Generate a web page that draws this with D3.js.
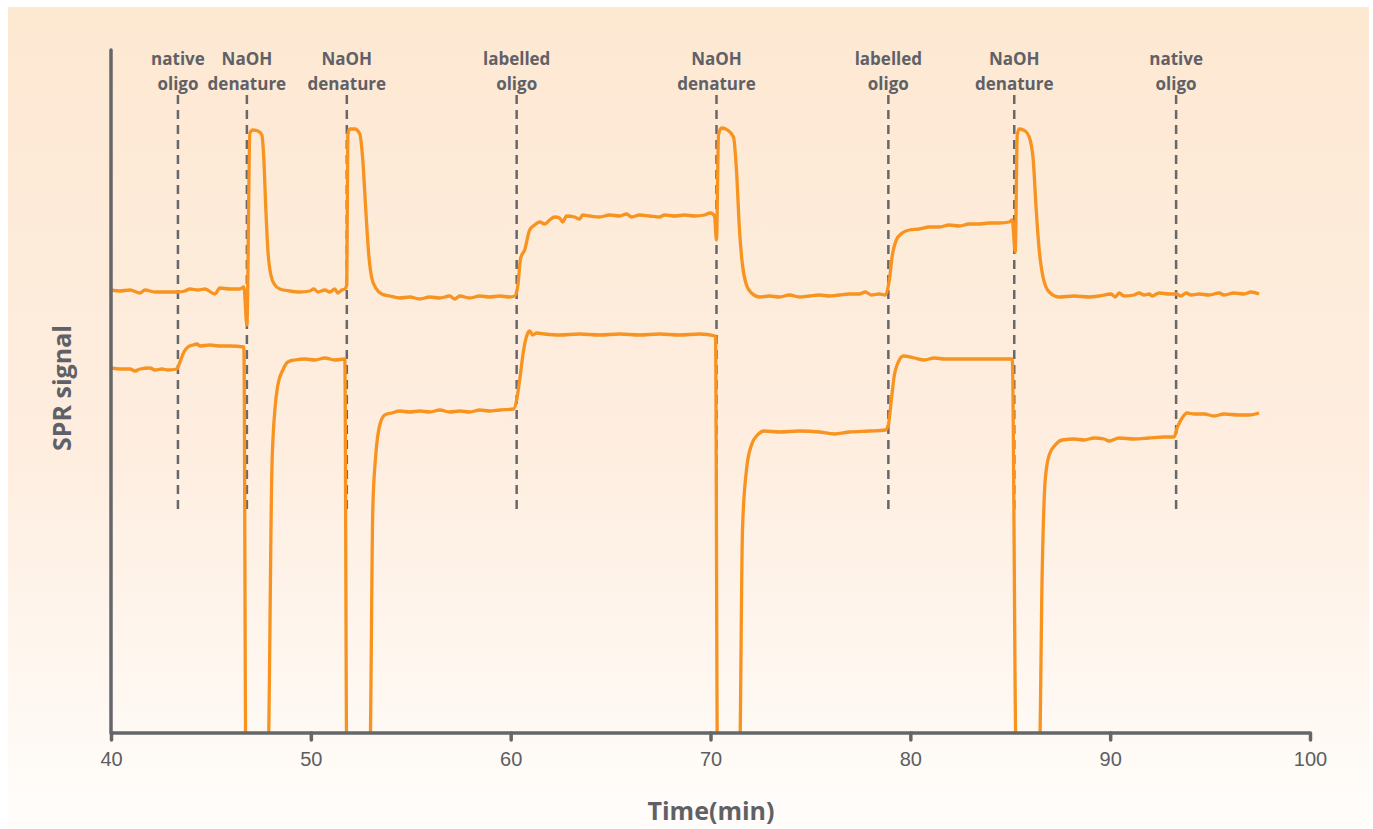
<!DOCTYPE html>
<html>
<head>
<meta charset="utf-8">
<script src="https://cdn.jsdelivr.net/npm/d3@7"></script>
<style>
  body { margin: 0; background: #fff; }
  svg { display: block; }
</style>
</head>
<body>
<div id="chart"></div>
<script>
// time in minutes, SPR signal in arbitrary units (bottom of the axis = 0)
const upperTime = [40.0, 40.45, 40.95, 41.45, 41.7, 42.2, 42.95, 43.35, 43.7, 43.95, 44.35, 44.7, 45.2, 45.45, 45.95, 46.45, 46.65,
  46.8, 46.95, 47.1, 47.35, 47.55, 47.65, 47.75, 47.85, 48.0, 48.2, 48.45, 48.95, 49.45, 49.95, 50.15, 50.35, 50.7, 50.95, 51.2, 51.35, 51.55, 51.7,
  51.8, 51.85, 51.95, 52.2, 52.45, 52.6, 52.75, 52.9, 53.05, 53.25, 53.55, 53.95, 54.45, 54.95, 55.45, 55.95, 56.45, 56.95, 57.2, 57.45, 57.95, 58.45, 58.95, 59.45, 59.95, 60.2,
  60.35, 60.5, 60.7, 60.95, 61.2, 61.45, 61.7, 61.95, 62.2, 62.45, 62.6, 62.8, 63.2, 63.45, 63.6, 63.95, 64.45, 64.95, 65.45, 65.8, 66.05, 66.45, 66.95, 67.45, 67.7, 68.2, 68.7, 69.2, 69.7, 70.0, 70.2,
  70.3, 70.4, 70.55, 70.85, 71.15, 71.3, 71.45, 71.6, 71.8, 72.05, 72.45, 72.95, 73.45, 73.95, 74.45, 74.95, 75.45, 75.95, 76.45, 76.95, 77.45, 77.75, 78.05, 78.45, 78.75,
  78.95, 79.1, 79.3, 79.6, 79.95, 80.45, 80.95, 81.45, 81.95, 82.45, 82.95, 83.45, 83.95, 84.45, 84.95, 85.1,
  85.25, 85.35, 85.45, 85.75, 85.95, 86.15, 86.3, 86.45, 86.65, 86.95, 87.45, 88.2, 88.95, 89.45, 90.05, 90.25, 90.45, 90.7, 91.2, 91.45, 91.7, 91.95, 92.1, 92.45, 92.95, 93.3, 93.55, 93.8, 94.05, 94.45, 94.95, 95.45, 95.7, 96.2, 96.7, 97.05, 97.45];
const upperSignal = [443, 442, 443, 440, 443, 441, 441, 441, 442, 444, 443, 444, 439, 445, 444, 444, 446,
  408, 600, 603, 602, 598, 573, 523, 483, 458, 448, 444, 442, 441, 442, 444, 441, 443, 441, 444, 440, 443, 444,
  448, 598, 604, 604, 599, 573, 523, 478, 455, 445, 439, 437, 435, 436, 434, 436, 435, 437, 434, 437, 435, 437, 436, 437, 436, 437,
  446, 475, 483, 503, 508, 511, 509, 513, 516, 515, 511, 517, 516, 514, 518, 517, 516, 518, 517, 519, 516, 518, 517, 516, 518, 517, 518, 517, 518, 520, 517,
  493, 598, 605, 603, 596, 563, 503, 468, 448, 440, 436, 437, 436, 438, 436, 437, 438, 437, 438, 439, 439, 441, 438, 439, 438,
  453, 478, 493, 500, 503, 504, 506, 506, 508, 507, 509, 509, 510, 510, 511, 513,
  481, 598, 604, 602, 596, 573, 523, 483, 455, 441, 436, 437, 436, 437, 439, 436, 440, 437, 438, 440, 438, 439, 437, 440, 439, 439, 437, 440, 438, 439, 438, 440, 438, 440, 439, 441, 439];

const lowerTime = [40.0, 40.45, 40.95, 41.2, 41.45, 41.95, 42.2, 42.55, 42.85, 43.3, 43.45, 43.65, 43.85, 44.1, 44.3, 44.45, 44.95, 45.45, 45.95, 46.65, 46.75,
  47.85, 48.05, 48.2, 48.35, 48.6, 48.85, 49.2, 49.7, 50.2, 50.7, 51.2, 51.7, 51.8,
  52.95, 53.1, 53.25, 53.45, 53.7, 54.05, 54.45, 54.95, 55.45, 55.95, 56.45, 56.95, 57.45, 57.95, 58.45, 58.95, 59.45, 60.15,
  60.3, 60.45, 60.65, 60.8, 60.95, 61.1, 61.3, 61.7, 62.45, 63.45, 64.45, 65.45, 66.45, 67.45, 68.45, 69.45, 70.25, 70.35,
  71.45, 71.6, 71.8, 72.05, 72.35, 72.7, 73.45, 74.45, 75.45, 76.2, 76.95, 77.95, 78.75,
  78.9, 79.05, 79.2, 79.4, 79.65, 80.2, 80.7, 81.2, 81.7, 82.45, 83.45, 84.45, 85.1, 85.3,
  86.45, 86.6, 86.75, 86.95, 87.25, 87.6, 88.2, 88.7, 89.2, 89.7, 89.95, 90.45, 91.2, 91.95, 92.7, 93.2,
  93.35, 93.6, 93.85, 94.2, 94.7, 95.2, 95.7, 96.45, 96.95, 97.45];
const lowerSignal = [365, 364, 364, 362, 364, 365, 363, 364, 363, 364, 371, 381, 386, 388, 389, 387, 388, 387, 387, 386, -30,
  -30, 263, 323, 348, 363, 371, 373, 374, 373, 375, 373, 374, -30,
  -30, 223, 278, 308, 318, 320, 322, 321, 322, 321, 323, 321, 322, 321, 323, 322, 323, 324,
  333, 353, 383, 397, 402, 398, 400, 399, 398, 399, 398, 399, 398, 399, 398, 399, 397, -30,
  -30, 203, 263, 288, 298, 302, 301, 302, 301, 299, 301, 302, 303,
  308, 333, 358, 371, 377, 375, 373, 375, 374, 374, 374, 374, 374, -30,
  -30, 163, 253, 278, 288, 293, 294, 293, 295, 294, 292, 295, 294, 295, 296, 296,
  305, 315, 320, 319, 319, 317, 319, 318, 318, 320];

// injection events
const eventTimes = [43.35, 46.8, 51.8, 60.3, 70.3, 78.9, 85.2, 93.3];
const eventLine1 = ['native', 'NaOH', 'NaOH', 'labelled', 'NaOH', 'labelled', 'NaOH', 'native'];
const eventLine2 = ['oligo', 'denature', 'denature', 'oligo', 'denature', 'oligo', 'denature', 'oligo'];

const xTicks = [40, 50, 60, 70, 80, 90, 100];

const W = 1373, H = 829;
const margin = { top: 50, right: 63, bottom: 96, left: 111 };
const width = W - margin.left - margin.right;
const height = H - margin.top - margin.bottom;

const svg = d3.select('#chart').append('svg')
  .attr('width', W)
  .attr('height', H)
  .style('font-family', '"Open Sans", "Noto Sans", sans-serif');

// panel background gradient
const defs = svg.append('defs');
const grad = defs.append('linearGradient')
  .attr('id', 'bg')
  .attr('x1', 0).attr('y1', 0).attr('x2', 0).attr('y2', 1);
grad.append('stop').attr('offset', '0%').attr('stop-color', '#fde8d2');
grad.append('stop').attr('offset', '55%').attr('stop-color', '#feeee0');
grad.append('stop').attr('offset', '100%').attr('stop-color', '#fffdfb');

svg.append('rect')
  .attr('x', 8).attr('y', 7)
  .attr('width', 1361).attr('height', H - 7)
  .attr('fill', 'url(#bg)');

defs.append('clipPath').attr('id', 'plotclip')
  .append('rect')
  .attr('x', 0).attr('y', -margin.top)
  .attr('width', width).attr('height', height + margin.top);

const g = svg.append('g')
  .attr('transform', `translate(${margin.left},${margin.top})`);

const x = d3.scaleLinear()
  .domain([40, 100])
  .range([0, width]);

const y = d3.scaleLinear()
  .domain([0, 683])
  .range([height, 0]);

// event markers
const dashTop = 638, dashBottom = 218;
g.selectAll('.event')
  .data(eventTimes)
  .join('line')
  .attr('class', 'event')
  .attr('x1', d => x(d)).attr('x2', d => x(d))
  .attr('y1', y(dashTop)).attr('y2', y(dashBottom))
  .attr('stroke', '#66686c')
  .attr('stroke-width', 2.5)
  .attr('stroke-dasharray', '9,6');

const labels = g.selectAll('.event-label')
  .data(eventTimes)
  .join('text')
  .attr('class', 'event-label')
  .attr('x', d => x(d))
  .attr('text-anchor', 'middle')
  .attr('fill', '#5f6166')
  .style('font-size', '17px')
  .style('font-weight', 'bold');
labels.append('tspan')
  .attr('x', d => x(d))
  .attr('y', 15)
  .text((d, i) => eventLine1[i]);
labels.append('tspan')
  .attr('x', d => x(d))
  .attr('y', 40)
  .text((d, i) => eventLine2[i]);

// traces
const line = d3.line()
  .x(d => x(d[0]))
  .y(d => y(d[1]))
  .curve(d3.curveMonotoneX);

const traces = [
  d3.zip(upperTime, upperSignal),
  d3.zip(lowerTime, lowerSignal)
];

g.append('g')
  .attr('clip-path', 'url(#plotclip)')
  .selectAll('path')
  .data(traces)
  .join('path')
  .attr('fill', 'none')
  .attr('stroke', '#f7931e')
  .attr('stroke-width', 3.3)
  .attr('stroke-linejoin', 'round')
  .attr('d', line);

// axes
const xAxis = g.append('g')
  .attr('transform', `translate(0,${height})`)
  .call(d3.axisBottom(x).tickValues(xTicks).tickSize(7).tickPadding(12));
xAxis.select('.domain')
  .attr('stroke', '#64666a')
  .attr('stroke-width', 3.5)
  .attr('d', `M0,0H${width}`);
xAxis.selectAll('.tick line')
  .attr('stroke', '#64666a')
  .attr('stroke-width', 3.5)
  .attr('stroke-linecap', 'round');
xAxis.selectAll('.tick text')
  .attr('fill', '#5c5e62')
  .style('font-size', '20px');

g.append('line')
  .attr('x1', 0).attr('x2', 0)
  .attr('y1', 0).attr('y2', height)
  .attr('stroke', '#64666a')
  .attr('stroke-width', 3.5)
  .attr('stroke-linecap', 'round');

// axis titles
svg.append('text')
  .attr('x', 711)
  .attr('y', 820)
  .attr('text-anchor', 'middle')
  .attr('fill', '#5f6166')
  .style('font-size', '25px')
  .style('font-weight', 'bold')
  .text('Time(min)');

svg.append('text')
  .attr('transform', 'translate(71,388) rotate(-90)')
  .attr('text-anchor', 'middle')
  .attr('fill', '#5f6166')
  .style('font-size', '25px')
  .style('font-weight', 'bold')
  .text('SPR signal');
</script>
</body>
</html>
